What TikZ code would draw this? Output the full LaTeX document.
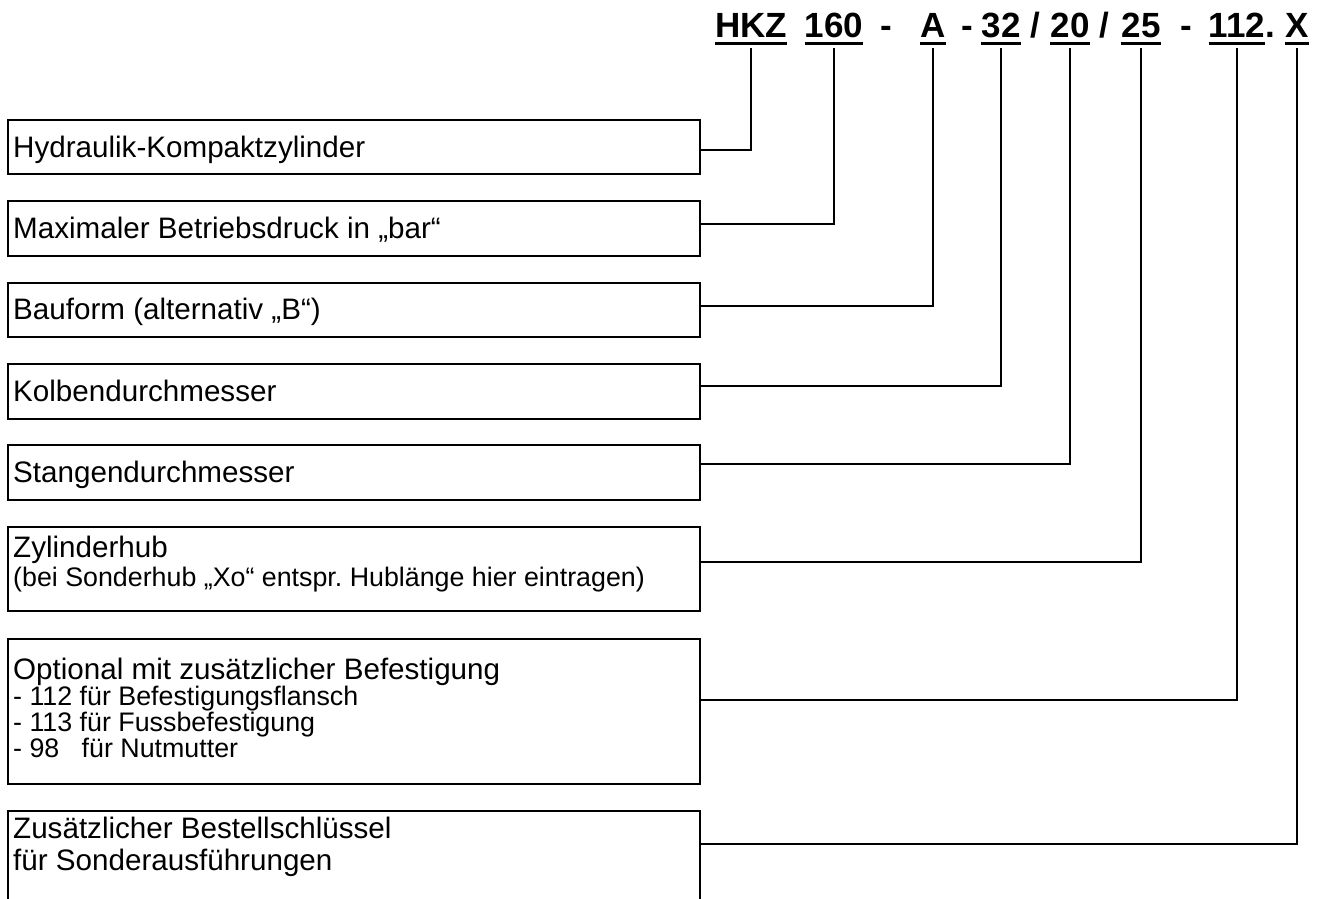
\documentclass[tikz,border=0pt]{standalone}
\usepackage{fontspec}
\setmainfont{Liberation Sans}
\frenchspacing
\begin{document}
\begin{tikzpicture}[x=1pt,y=-1pt,
  box/.style={draw, line width=2pt, minimum width=692pt, inner sep=0pt, anchor=north west},
  main/.style={font=\fontsize{29.6}{34}\selectfont, inner sep=0pt, anchor=base west},
  small/.style={font=\fontsize{26.8}{31}\selectfont, inner sep=0pt, anchor=base west},
  code/.style={font=\fontsize{35}{40}\selectfont\bfseries, inner sep=0pt, anchor=base},
  link/.style={line width=2pt},
  uline/.style={line width=3pt}]
\useasboundingbox (0,0) rectangle (1320,898);
\clip (0,0) rectangle (1320,898);

% header code
\node[code] (hkz) at (751,37) {HKZ};
\node[code] (p160) at (834,37) {160};
\node[code] (d1) at (886,37) {-};
\node[code] (pa) at (933,37) {A};
\node[code] (d2) at (967,37) {-};
\node[code] (p32) at (1001,37) {32};
\node[code] (s1) at (1035,37) {/};
\node[code] (p20) at (1070,37) {20};
\node[code] (s2) at (1104,37) {/};
\node[code] (p25) at (1141,37) {25};
\node[code] (d3) at (1186,37) {-};
\node[code] (p112) at (1237,37) {112};
\node[code, anchor=base west] (dot) at (p112.base east) {.};
\node[code] (px) at (1297,37) {X};

\foreach \n in {hkz,p160,pa,p32,p20,p25,p112,px}{
  \draw[uline] ([yshift=-6.5pt]\n.base west) -- ([yshift=-6.5pt]\n.base east);
  \coordinate (k\n) at ([yshift=-11pt]\n.base);
}

% boxes
\node[box, minimum height=54pt] (b1) at (7,119) {};
\node[box, minimum height=55pt] (b2) at (7,200) {};
\node[box, minimum height=54pt] (b3) at (7,282) {};
\node[box, minimum height=55pt] (b4) at (7,363) {};
\node[box, minimum height=55pt] (b5) at (7,444) {};
\node[box, minimum height=84pt] (b6) at (7,526) {};
\node[box, minimum height=145pt] (b7) at (7,638) {};
\node[box, minimum height=110pt] (b8) at (7,810) {};

% texts
\node[main] (t1) at (13,157) {Hydraulik-Kompaktzylinder};
\node[main] (t2) at (13,238) {Maximaler Betriebsdruck in „bar“};
\node[main] (t3) at (13,319.5) {Bauform (alternativ „B“)};
\node[main] (t4) at (13,401) {Kolbendurchmesser};
\node[main] (t5) at (13,482) {Stangendurchmesser};
\node[main] (t6a) at (13,557) {Zylinderhub};
\node[small] (t6b) at (13,586) {(bei Sonderhub „Xo“ entspr. Hublänge hier eintragen)};
\node[main] (t7a) at (13,679) {Optional mit zusätzlicher Befestigung};
\node[small] (t7b) at (13,705) {- 112 für Befestigungsflansch};
\node[small] (t7c) at (13,731) {- 113 für Fussbefestigung};
\node[small] (t7d) at (13,757) {- 98\hphantom{0} für Nutmutter};
\node[main] (t8a) at (13,838) {Zusätzlicher Bestellschlüssel};
\node[main] (t8b) at (13,870) {für Sonderausführungen};

% connectors
\draw[link] ([yshift=-31pt]b1.north east) -| (khkz);
\draw[link] ([yshift=-24pt]b2.north east) -| (kp160);
\draw[link] ([yshift=-24pt]b3.north east) -| (kpa);
\draw[link] ([yshift=-23pt]b4.north east) -| (kp32);
\draw[link] ([yshift=-20pt]b5.north east) -| (kp20);
\draw[link] ([yshift=-36pt]b6.north east) -| (kp25);
\draw[link] ([yshift=-62pt]b7.north east) -| (kp112);
\draw[link] ([yshift=-34pt]b8.north east) -| (kpx);
\end{tikzpicture}
\end{document}
